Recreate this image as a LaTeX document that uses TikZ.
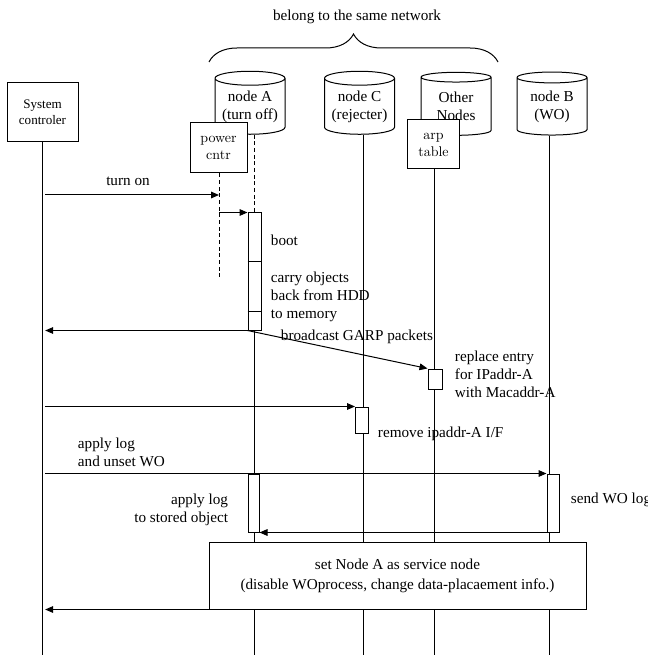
\documentclass[tikz,border=0pt]{standalone}
\usepackage{fontspec}
\setmainfont{Liberation Serif}
\newfontfamily\lmfont{Latin Modern Roman}
\usetikzlibrary{arrows.meta,positioning,shapes.geometric,decorations.pathreplacing}

\begin{document}
\begin{tikzpicture}[x=0.75pt,y=-0.75pt,line width=0.75pt,
  every node/.style={font=\fontsize{11.4}{13.5}\selectfont},
  box/.style={draw,fill=white,inner sep=0pt,align=center},
  cyl/.style={draw,fill=white,cylinder,shape border rotate=90,aspect=0.25,
    minimum width=52.5pt,minimum height=47.25pt,inner sep=0pt,align=center},
  act/.style={draw,fill=white,inner sep=0pt},
  msg/.style={-{Triangle[length=6pt,width=5pt]}},
  lifedash/.style={dash pattern=on 3pt off 2pt}]
  \useasboundingbox (0,0) rectangle (647,655);

  % the network brace
  \draw[decorate,decoration={brace,amplitude=21pt}] (209,62) -- (498,62);
  \node (net) at (357,17) {belong to the same network};

  % actors
  \node[box,minimum width=53.25pt,minimum height=44.25pt,
    font=\fontsize{9.8}{12}\selectfont] (sc) at (42.5,112.5) {System\\controler};
  \node[cyl] (nA) at (250,106.5) {node A\\(turn off)};
  \node[cyl] (nC) at (359.5,106.5) {node C\\(rejecter)};
  \node[cyl] (nO) at (456,106.5) {Other\\Nodes};
  \node[cyl] (nB) at (552,106.5) {node B\\(WO)};
  \node[box,minimum width=42.75pt,minimum height=37.5pt,
    font=\lmfont\fontsize{10.5}{12.75}\selectfont] (pc) at (218.5,148) {power\\cntr};
  \node[box,minimum width=39pt,minimum height=36.75pt,
    font=\lmfont\fontsize{10.5}{12.75}\selectfont] (arp) at (433.5,144.5) {arp\\table};

  % bottom ends of the lifelines
  \coordinate (scEnd) at (42.5,655);
  \coordinate (pcEnd) at (219,280);
  \coordinate (aEnd) at (254,655);
  \coordinate (cEnd) at (363,655);
  \coordinate (arpEnd) at (434,655);
  \coordinate (bEnd) at (549,655);

  % activations
  \node[act,minimum width=9.75pt,minimum height=87.75pt] (actA1) at (254.5,271.5) {};
  \node[act,minimum width=10.5pt,minimum height=15pt] (actArp) at (435,379) {};
  \node[act,minimum width=9.75pt,minimum height=19.5pt] (actC) at (362,420) {};
  \node[act,minimum width=9pt,minimum height=43.5pt] (actB) at (553,503) {};
  \node[act,minimum width=8.25pt,minimum height=43.5pt] (actA2) at (253.5,503) {};

  % lifelines
  \draw (sc.south) -- (scEnd);
  \draw[lifedash] (pc.south -| pcEnd) -- (pcEnd);
  \draw[lifedash] (nA.south -| aEnd) -- (actA1.north -| aEnd);
  \draw (actA1.south -| aEnd) -- (actA2.north -| aEnd);
  \draw (actA2.south -| aEnd) -- (aEnd);
  \draw (nC.south -| cEnd) -- (actC.north -| cEnd);
  \draw (actC.south -| cEnd) -- (cEnd);
  \draw (arp.south -| arpEnd) -- (actArp.north -| arpEnd);
  \draw (actArp.south -| arpEnd) -- (arpEnd);
  \draw (nB.south -| bEnd) -- (actB.north -| bEnd);
  \draw (actB.south -| bEnd) -- (bEnd);

  % boot phase
  \draw (actA1.west |- 0,262) -- (actA1.east |- 0,262);
  \draw (actA1.west |- 0,311) -- (actA1.east |- 0,311);
  \node[anchor=west] (boot) at (266,240) {boot};
  \node[anchor=west,align=left] (carry) at (266,297) {carry objects\\back from HDD\\to memory};

  % messages
  \coordinate (pcOn) at (219,195);
  \draw[msg,shorten <=2pt] (sc.south |- pcOn) -- (pcOn);
  \node (turnon) at (128,181) {turn on};
  \draw[msg] (pcOn |- actA1.north) -- (actA1.north west);
  \draw[msg,shorten >=2pt] (actA1.south west) -- (actA1.south west -| scEnd);
  \draw[msg] (actA1.south west) -- (actArp.north west);
  \node[anchor=west] (garp) at (276,337) {broadcast GARP packets};
  \node[anchor=west,align=left] (repl) at (450,374) {replace entry\\for IPaddr-A\\with Macaddr-A};
  \draw[msg,shorten <=2pt] (actC.north west -| scEnd) -- (actC.north west);
  \node[anchor=west] (rmv) at (373,434) {remove ipaddr-A I/F};
  \draw[msg,shorten <=2pt] (actB.north west -| scEnd) -- (actB.north west);
  \node[anchor=west,align=left] (unset) at (73,452) {apply log\\and unset WO};
  \node[anchor=west] (sendlog) at (566,500) {send WO log};
  \draw[msg] (actB.south west) -- (actB.south west -| actA2.east);
  \node[anchor=east,align=right] (applyA) at (233,510) {apply log\\to stored object};

  % service node box
  \node[box,minimum width=282.75pt,minimum height=50.25pt,
    font=\fontsize{11.4}{15}\selectfont] (svc) at (397.5,575.5)
    {set Node A as service node\\(disable WOprocess, change data-placaement info.)};
  \draw[msg,shorten >=2pt] (svc.south west) -- (svc.south west -| scEnd);
\end{tikzpicture}
\end{document}
